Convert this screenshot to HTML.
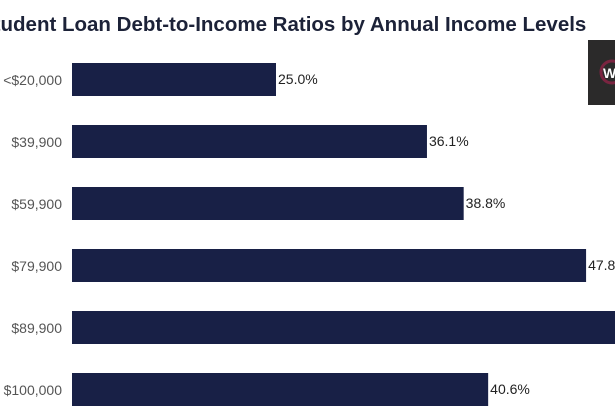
<!DOCTYPE html>
<html><head><meta charset="utf-8"><style>
html,body{margin:0;padding:0;background:#fff;width:615px;height:410px;overflow:hidden}
svg{display:block;font-family:"Liberation Sans",Arial,sans-serif}
</style></head><body>
<svg id="chart" width="615" height="410">
<text x="-20" y="31" font-size="20.5" font-weight="bold" fill="#1c2238">Student Loan Debt-to-Income Ratios by Annual Income Levels</text>
<rect x="588" y="40" width="30" height="65" fill="#2b2a2a"/>
<circle cx="612" cy="72" r="11" fill="none" stroke="#7a2440" stroke-width="3"/>
<text x="603" y="78" font-size="14" font-weight="bold" fill="#fff">W</text>
<g id="bars"></g>
</svg>
<script>
const categories = ["<$20,000","$39,900","$59,900","$79,900","$89,900","$100,000"];
const values = [25.0, 36.1, 38.8, 47.8, 53.5, 40.6];
const valueLabels = ["25.0%","36.1%","38.8%","47.8%","53.5%","40.6%"];
const xMin = 10;
function x(v){ return 72 + (v - xMin) * 13.6; }
function y(i){ return 63 + i * 62; }
const g = document.getElementById('bars');
const NS = "http://www.w3.org/2000/svg";
categories.forEach((c,i)=>{
  const r = document.createElementNS(NS,'rect');
  r.setAttribute('x', x(xMin)); r.setAttribute('y', y(i));
  r.setAttribute('width', x(values[i]) - x(xMin)); r.setAttribute('height', 33);
  r.setAttribute('fill', '#182046');
  
  
  g.appendChild(r);
  const t = document.createElementNS(NS,'text');
  t.setAttribute('x', 62); t.setAttribute('y', y(i) + 22);
  t.setAttribute('text-anchor','end'); t.setAttribute('font-size','14'); t.setAttribute('fill','#555');
  t.textContent = c;
  
  
  g.appendChild(t);
  const v = document.createElementNS(NS,'text');
  v.setAttribute('x', x(values[i]) + 2); v.setAttribute('y', y(i) + 21);
  v.setAttribute('font-size','14'); v.setAttribute('fill','#222');
  v.textContent = valueLabels[i];
  
  
  g.appendChild(v);
});
</script>
</body></html>
